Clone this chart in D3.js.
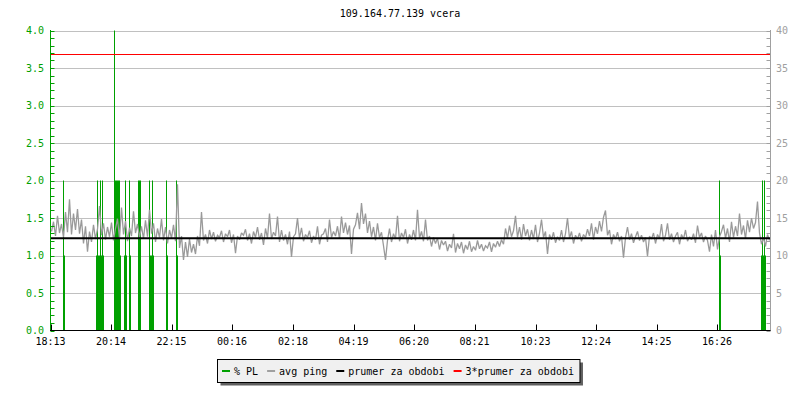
<!DOCTYPE html>
<html><head><meta charset="utf-8">
<script src="https://cdn.jsdelivr.net/npm/d3@7/dist/d3.min.js"></script>
<style>
html,body{margin:0;padding:0;background:#fff;}
svg{display:block;}
text{font-family:"DejaVu Sans Mono",monospace;font-size:10px;}
</style></head><body>
<svg id="c" width="800" height="400"></svg>
<script>
// ---- data ----
const title = "109.164.77.139 vcera";
const startTime = "18:13";           // start of the 24h window
const xTickLabels = ["18:13","20:14","22:15","00:16","02:18","04:19","06:20","08:21","10:23","12:24","14:25","16:26"];
const leftTicks = [0.0,0.5,1.0,1.5,2.0,2.5,3.0,3.5,4.0];
const rightTicks = [0,5,10,15,20,25,30,35,40];
// avg ping (ms), one sample every 4 minutes
const pingStepMin = 4;
const pingMs = [
13.2,14.5,12.6,15.3,13.0,14.2,12.4,15.8,
13.1,17.5,12.8,15.6,13.4,16.2,12.9,14.8,
11.6,13.9,10.5,13.2,11.8,14.1,12.2,13.5,
16.6,12.7,14.3,12.1,13.8,12.5,14.4,12.0,
13.6,14.9,12.3,16.4,12.8,14.6,11.9,13.7,
12.6,15.9,13.0,14.2,12.4,13.9,12.2,14.7,
12.5,16.1,12.9,14.3,11.8,13.6,12.4,14.9,
12.0,13.8,11.6,13.4,12.3,14.1,11.9,19.5,
11.0,12.6,9.4,11.8,9.8,12.2,10.4,11.5,
10.2,12.6,11.3,15.8,12.0,12.8,11.6,13.4,
12.2,13.1,11.9,12.7,12.4,13.3,11.8,12.9,
12.5,13.4,11.7,12.8,10.3,12.6,12.1,13.0,
12.7,13.5,12.0,12.9,11.6,13.2,12.4,13.8,
12.1,13.0,11.4,13.6,12.3,15.6,12.2,13.1,
12.6,15.2,11.8,13.4,12.0,12.8,11.5,13.2,
9.8,12.5,12.9,15.0,12.3,13.7,11.9,12.8,
12.4,13.3,11.7,12.6,12.1,13.9,11.5,12.7,
12.9,13.6,11.8,14.8,12.4,13.2,12.6,13.9,
12.2,15.2,13.0,14.4,12.8,14.0,10.2,13.5,
14.1,15.7,13.5,17.0,14.2,15.6,13.0,14.6,
12.5,13.8,12.0,14.3,12.4,13.1,11.3,9.4,
12.0,13.6,11.8,12.9,12.2,15.3,11.9,13.0,
12.4,13.5,11.6,12.8,12.1,13.4,12.0,16.1,
12.3,13.2,11.9,14.8,12.0,12.6,11.2,12.4,
11.6,12.3,10.8,12.0,11.4,11.9,10.6,11.5,
11.0,12.9,10.4,11.6,10.9,11.8,10.3,11.4,
10.8,11.9,10.5,11.2,10.7,12.0,10.9,11.5,
10.6,11.3,11.0,11.8,10.5,11.6,11.1,11.9,
11.2,12.1,11.5,13.6,12.3,14.0,12.5,13.3,
15.3,12.4,13.8,12.1,14.2,12.6,13.5,12.0,
13.4,12.2,14.1,11.8,13.0,14.8,12.4,13.2,
10.2,12.8,12.1,13.1,11.7,12.5,12.0,13.4,
11.8,12.9,15.0,12.3,13.2,11.6,12.7,12.2,
13.0,11.9,12.8,12.4,13.5,12.6,14.3,12.1,
13.8,12.9,14.6,13.2,15.1,16.0,12.7,13.4,
11.5,12.8,12.2,13.1,11.9,12.6,9.7,12.4,
13.8,12.1,12.9,11.7,12.5,13.2,12.0,12.7,
11.8,12.4,9.9,12.6,12.2,13.0,11.6,12.8,
12.3,14.2,11.9,12.7,14.3,12.1,12.9,11.8,
12.6,13.1,11.5,12.8,12.2,13.4,11.9,12.5,
12.1,12.9,11.7,14.0,12.4,13.0,11.8,12.6,
12.0,10.5,12.8,11.2,13.4,10.8,12.5,13.2,
14.1,12.3,13.6,11.8,14.5,12.4,13.9,12.6,
15.6,12.8,14.0,12.2,14.7,13.1,15.0,13.6,
14.4,17.2,13.0,11.5,12.4,11.2,12.8,12.0
];
// packet loss (%), minutes after start, 2-minute samples
const plStepMin = 2;
const plOffsetMin = [26,28,92,94,96,98,100,102,104,106,128,130,132,134,136,138,140,148,150,152,158,160,176,178,180,198,200,202,204,206,232,234,252,254,1338,1340,1422,1424,1426,1428,1430];
const plValue     = [2,1,1,2,1,1,2,1,2,1,4,2,2,2,2,2,1,1,2,1,2,1,2,2,2,2,1,1,2,1,2,1,2,1,2,1,1,2,1,2,1];
const meanPing = 12.3;   // prumer za obdobi (ms)
const legendItems = ["% PL","avg ping","prumer za obdobi","3*prumer za obdobi"];
const legendColors = ["#00a000","#a0a0a0","#000000","#ff0000"];

// ---- layout ----
const svg = d3.select("#c");
const L = 50.5, R = 770.5, T = 30.5, B = 330.5;
const [sh, sm] = startTime.split(":").map(Number);
const t0 = new Date(2020,0,1,sh,sm);
const t1 = new Date(t0.getTime() + 24*3600e3);
const addMin = m => new Date(t0.getTime() + m*60e3);
const x = d3.scaleTime().domain([t0,t1]).range([L,R]);
const yL = d3.scaleLinear().domain([0,4]).range([B,T]);
const yR = d3.scaleLinear().domain([0,40]).range([B,T]);
const green = "#00a000", grid = "#c0c0c0", gray = "#9a9a9a";

// title
svg.append("text").attr("x",400).attr("y",17).attr("text-anchor","middle").attr("fill","#000").text(title);

// gridlines
svg.append("g").selectAll("line").data(leftTicks.filter(d=>d>0)).join("line")
  .attr("x1",L).attr("x2",R).attr("y1",d=>Math.round(yL(d))+0.5).attr("y2",d=>Math.round(yL(d))+0.5)
  .attr("stroke",grid).attr("stroke-width",1);

// PL bars
svg.append("g").selectAll("rect").data(plOffsetMin.map((m,i)=>({t:addMin(m),v:plValue[i],m}))).join("rect")
  .attr("x",d=>Math.round(x(d.t)-0.5)).attr("width",d=>Math.max(1,Math.round(x(addMin(d.m+plStepMin))-x(d.t))))
  .attr("y",d=>yL(d.v)).attr("height",d=>yL(0)-yL(d.v)).attr("fill",green);

// ping line
const pingPts = pingMs.map((v,i)=>({t:addMin(i*pingStepMin+pingStepMin/2),v}));
svg.append("path").datum(pingPts)
  .attr("d", d3.line().x(d=>x(d.t)).y(d=>yR(d.v)).curve(d3.curveLinear))
  .attr("fill","none").attr("stroke",gray).attr("stroke-width",1.3).attr("stroke-linejoin","miter").attr("stroke-miterlimit",2);

// mean line
svg.append("line").attr("x1",L).attr("x2",R).attr("y1",yR(meanPing)).attr("y2",yR(meanPing))
  .attr("stroke","#000").attr("stroke-width",2);
// 3*mean line
svg.append("line").attr("x1",L).attr("x2",R).attr("y1",Math.round(yR(3*meanPing))+0.5).attr("y2",Math.round(yR(3*meanPing))+0.5)
  .attr("stroke","#ff0000").attr("stroke-width",1);

// left axis
const gl = svg.append("g");
gl.append("line").attr("x1",L).attr("x2",L).attr("y1",T-0.5).attr("y2",B+0.5).attr("stroke",green);
gl.selectAll("line.minor").data(d3.range(0,41).map(d=>d/10)).join("line").attr("class","minor")
  .attr("x1",L).attr("x2",L+4).attr("y1",d=>Math.round(yL(d))+0.5).attr("y2",d=>Math.round(yL(d))+0.5).attr("stroke",green);
gl.selectAll("text").data(leftTicks).join("text")
  .attr("x",44).attr("y",d=>yL(d)+3.5).attr("text-anchor","end").attr("fill",green).text(d=>d3.format(".1f")(d));

// right axis
const gr = svg.append("g");
gr.append("line").attr("x1",R).attr("x2",R).attr("y1",T-0.5).attr("y2",B+0.5).attr("stroke","#a0a0a0");
gr.selectAll("line.minor").data(d3.range(0,41)).join("line").attr("class","minor")
  .attr("x1",R-4).attr("x2",R).attr("y1",d=>Math.round(yR(d))+0.5).attr("y2",d=>Math.round(yR(d))+0.5).attr("stroke","#a0a0a0");
gr.selectAll("text").data(rightTicks).join("text")
  .attr("x",776).attr("y",d=>yR(d)+3.5).attr("text-anchor","start").attr("fill","#a0a0a0").text(d=>d);

// bottom axis
const xTickTimes = xTickLabels.map(s=>{const [h,m]=s.split(":").map(Number);let d=new Date(2020,0,1,h,m);if(d<t0)d=new Date(d.getTime()+24*3600e3);return d;});
const gb = svg.append("g");
gb.append("line").attr("x1",L-0.5).attr("x2",R).attr("y1",B).attr("y2",B).attr("stroke","#000");
gb.selectAll("line.tk").data(xTickTimes).join("line").attr("class","tk")
  .attr("x1",d=>Math.round(x(d))+0.5).attr("x2",d=>Math.round(x(d))+0.5).attr("y1",B-6).attr("y2",B).attr("stroke","#000");
gb.selectAll("text").data(xTickLabels).join("text")
  .attr("x",(d,i)=>x(xTickTimes[i])).attr("y",345).attr("text-anchor","middle").attr("fill","#000").text(d=>d);

// legend
const lg = svg.append("g");
const shadow = lg.append("rect").attr("fill","#606060");
const box = lg.append("rect").attr("fill","#f0f0f0").attr("stroke","#000").attr("stroke-width",1);
let cx = 222;
legendItems.forEach((name,i)=>{
  lg.append("line").attr("x1",cx).attr("x2",cx+8).attr("y1",371).attr("y2",371).attr("stroke",legendColors[i]).attr("stroke-width",2);
  const t = lg.append("text").attr("x",cx+12).attr("y",374.5).attr("fill","#000").text(name);
  cx = cx + 12 + t.node().getComputedTextLength() + 9;
});
const bx = 217.5, by = 359.5, bw = (cx - 9 + 6) - bx, bh = 23;
box.attr("x",bx).attr("y",by).attr("width",bw).attr("height",bh);
shadow.attr("x",bx+3).attr("y",by+3).attr("width",bw).attr("height",bh);
</script></body></html>
